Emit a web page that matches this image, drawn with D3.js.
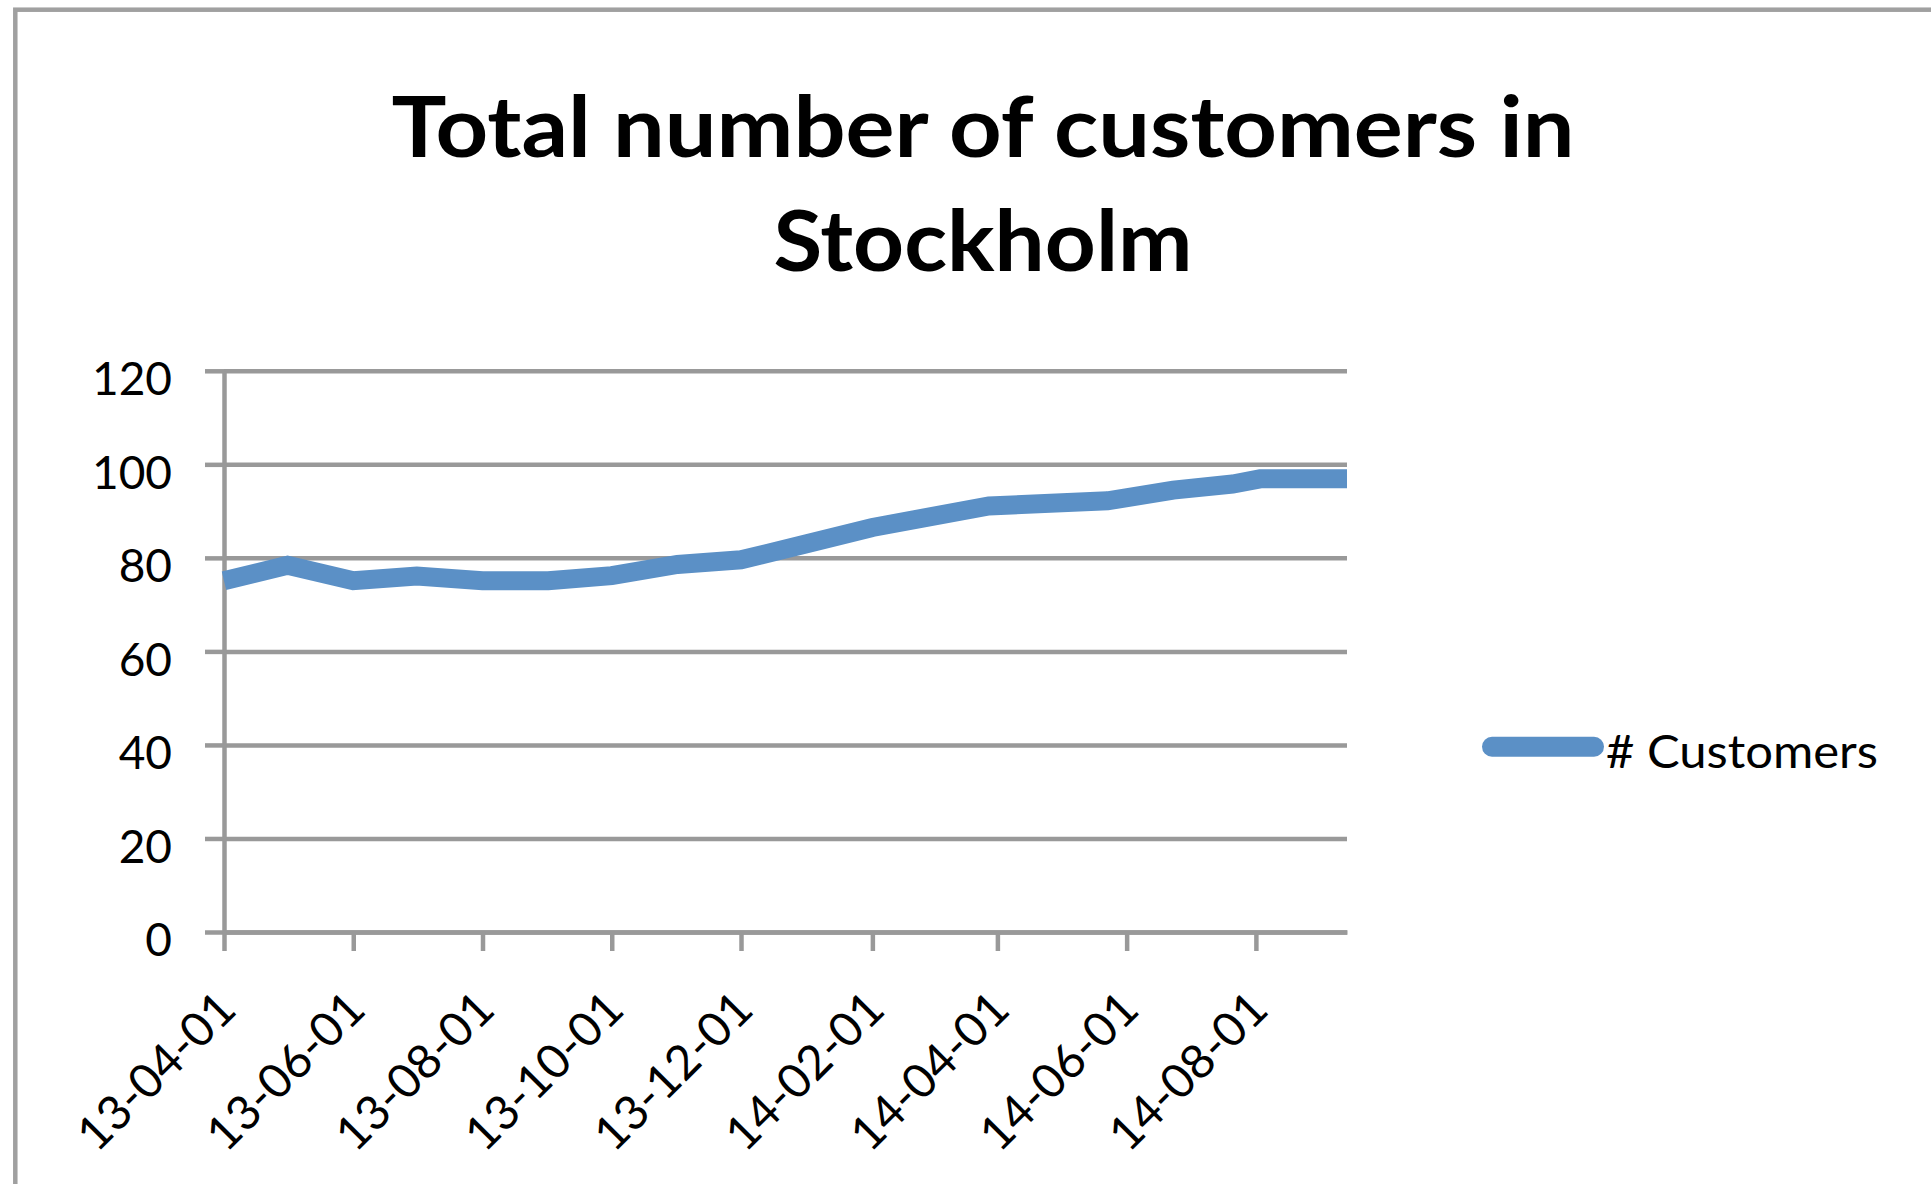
<!DOCTYPE html>
<html>
<head>
<meta charset="utf-8">
<script src="https://cdn.jsdelivr.net/npm/d3@7"></script>
<style>
  html, body { margin: 0; padding: 0; background: #ffffff; }
  svg { display: block; }
  text { font-family: Lato, "Open Sans", "Noto Sans", sans-serif; fill: #000; }
</style>
</head>
<body>
<script>
// ---- data ----
const dates = ["2013-04-01","2013-05-01","2013-06-01","2013-07-01","2013-08-01","2013-09-01",
               "2013-10-01","2013-11-01","2013-12-01","2014-01-01","2014-02-01","2014-03-28",
               "2014-05-23","2014-06-23","2014-07-21","2014-08-03","2014-09-13"];
const customers = [75.1, 78.4, 75.1, 76.1, 75.1, 75.1, 76.2, 78.6, 79.6, 83.0, 86.5, 91.1,
                   92.2, 94.5, 95.8, 96.9, 96.9];
const xTickDates = ["2013-04-01","2013-06-01","2013-08-01","2013-10-01","2013-12-01",
                    "2014-02-01","2014-04-01","2014-06-01","2014-08-01"];
const yTicks = [0, 20, 40, 60, 80, 100, 120];
const titleLines = ["Total number of customers in", "Stockholm"];
const seriesName = "# Customers";

// ---- layout ----
const W = 1931, H = 1184;
const plotLeft = 224, plotRight = 1347, plotTop = 370.8, plotBottom = 932;
const gridColor = "#999999", lineColor = "#5b90c6";

const parse = d3.utcParse("%Y-%m-%d");
const data = dates.map((d, i) => ({ date: parse(d), v: customers[i] }));

const svg = d3.select("body").append("svg").attr("width", W).attr("height", H);
svg.append("rect").attr("width", W).attr("height", H).attr("fill", "#fff");

// outer chart border (only top/left visible)
svg.append("rect").attr("x", 15.3).attr("y", 9.7).attr("width", 4000).attr("height", 4000)
  .attr("fill", "none").attr("stroke", "#a0a0a0").attr("stroke-width", 4.5);

const x = d3.scaleUtc().domain([data[0].date, data[data.length - 1].date]).range([plotLeft, plotRight]);
const y = d3.scaleLinear().domain([0, 120]).range([plotBottom, plotTop]);

// title
const titleY = [157, 270.7], titleW = [1183, 419];
titleLines.forEach((t, i) => {
  svg.append("text").attr("x", 983).attr("y", titleY[i]).attr("text-anchor", "middle")
    .style("font-weight", 700).style("font-size", "84px")
    .attr("textLength", titleW[i]).attr("lengthAdjust", "spacingAndGlyphs")
    .text(t);
});

// gridlines
const grid = svg.append("g").attr("transform", `translate(${plotLeft},0)`)
  .call(d3.axisLeft(y).tickValues(yTicks).tickSize(-(plotRight - plotLeft)).tickFormat(""));
grid.select(".domain").remove();
grid.selectAll("line").attr("stroke", gridColor).attr("stroke-width", 4.5);

// y axis
const yAxis = svg.append("g").attr("transform", `translate(${plotLeft},0)`)
  .call(d3.axisLeft(y).tickValues(yTicks).tickSize(19).tickSizeOuter(0).tickPadding(33));
yAxis.select(".domain").attr("stroke", gridColor).attr("stroke-width", 4.5);
yAxis.selectAll(".tick line").attr("stroke", gridColor).attr("stroke-width", 4.5);
yAxis.selectAll(".tick text").attr("dy", "0.52em")
  .style("font-size", "46px").style("font-family", "Lato, 'Open Sans', sans-serif").attr("fill", "#000");

// x axis
const fmt = d3.utcFormat("%y-%m-%d");
const xAxis = svg.append("g").attr("transform", `translate(0,${plotBottom})`)
  .call(d3.axisBottom(x).tickValues(xTickDates.map(parse)).tickFormat(fmt).tickSize(19).tickSizeOuter(0));
xAxis.select(".domain").attr("stroke", gridColor).attr("stroke-width", 4.5);
xAxis.selectAll(".tick line").attr("stroke", gridColor).attr("stroke-width", 4.5);
xAxis.selectAll(".tick text")
  .attr("x", 0).attr("y", 0).attr("dy", 0)
  .attr("text-anchor", "end")
  .attr("transform", "translate(14,80) rotate(-45)")
  .style("font-size", "47.5px").style("font-family", "Lato, 'Open Sans', sans-serif").attr("fill", "#000");

// series line
const line = d3.line().x(d => x(d.date)).y(d => y(d.v));
svg.append("path").datum(data).attr("d", line)
  .attr("fill", "none").attr("stroke", lineColor).attr("stroke-width", 19)
  .attr("stroke-linejoin", "miter").attr("stroke-linecap", "butt");

// legend
svg.append("line").attr("x1", 1492).attr("x2", 1594).attr("y1", 746.7).attr("y2", 746.7)
  .attr("stroke", lineColor).attr("stroke-width", 20).attr("stroke-linecap", "round");
svg.append("text").attr("x", 1606).attr("y", 767.7)
  .style("font-size", "47px")
  .attr("textLength", 272).attr("lengthAdjust", "spacingAndGlyphs")
  .text(seriesName);
</script>
</body>
</html>
